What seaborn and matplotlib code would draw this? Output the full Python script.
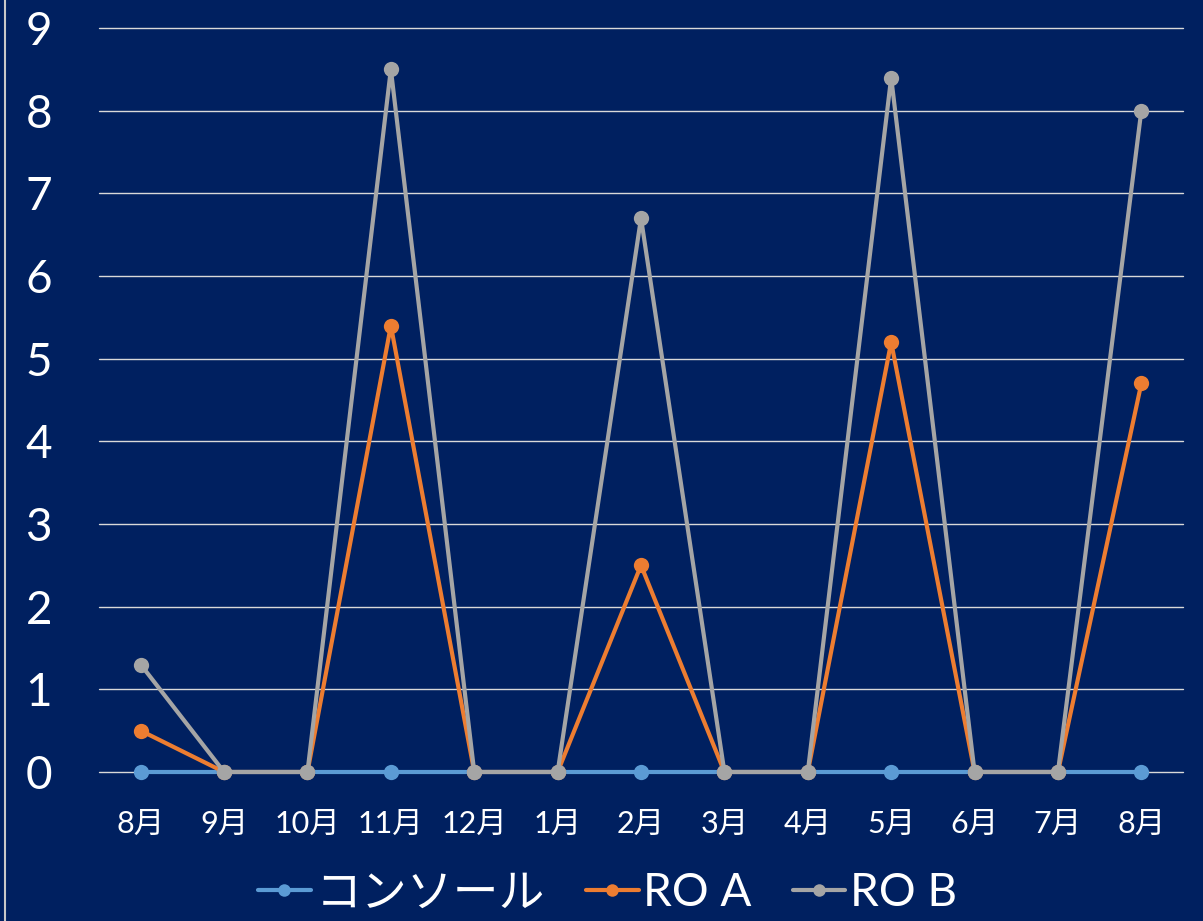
import matplotlib
matplotlib.use("Agg")
import matplotlib.pyplot as plt
from matplotlib.lines import Line2D
import seaborn as sns
import pandas as pd
import numpy as np

months = ["8月", "9月", "10月", "11月", "12月", "1月", "2月", "3月", "4月", "5月", "6月", "7月", "8月"]
console = [0, 0, 0, 0, 0, 0, 0, 0, 0, 0, 0, 0, 0]
ro_a = [0.5, 0, 0, 5.4, 0, 0, 2.5, 0, 0, 5.2, 0, 0, 4.7]
ro_b = [1.3, 0, 0, 8.5, 0, 0, 6.7, 0, 0, 8.4, 0, 0, 8.0]
series_names = ["コンソール", "RO A", "RO B"]
colors = ["#5B9BD5", "#ED7D31", "#A5A5A5"]
y_ticks = list(range(0, 10))

bg = "#002060"
sns.set_theme(style="white")
plt.rcParams["font.family"] = ["Lato", "Noto Sans CJK JP", "DejaVu Sans"]

idx = list(range(len(months)))
df = pd.concat([
    pd.DataFrame({"x": idx, "value": vals, "series": name})
    for name, vals in zip(series_names, [console, ro_a, ro_b])
], ignore_index=True)

fig = plt.figure(figsize=(12.03, 9.21), dpi=100, facecolor=bg)
ax = fig.add_axes([0.0823, 0.1618, 0.9011, 0.8078])
ax.set_facecolor(bg)

for ys in y_ticks:
    ax.axhline(ys, color="#D9D9D9", lw=1.0, zorder=1)

sns.lineplot(data=df, x="x", y="value", hue="series", hue_order=series_names,
             palette=colors, marker="o", markersize=11, markeredgewidth=0,
             linewidth=3, sort=False, ax=ax, legend=False, zorder=3)

ax.set_xlim(-0.5, len(months) - 0.5)
ax.set_ylim(0, 9)
ax.set_yticks(y_ticks)
ax.set_yticklabels([str(v) for v in y_ticks], fontsize=33, color="white")
ax.set_xticks(idx)
ax.set_xticklabels(months, fontsize=22, color="white")
ax.tick_params(axis="y", length=0, pad=53)
ax.tick_params(axis="x", length=0, pad=27)
for lbl in ax.get_yticklabels():
    lbl.set_horizontalalignment("left")
ax.set_xlabel("")
ax.set_ylabel("")
for s in ax.spines.values():
    s.set_visible(False)
for ln in ax.lines:
    ln.set_clip_on(False)

handles = [Line2D([0], [0], color=c, lw=3, marker="o", markersize=9, markeredgewidth=0)
           for c in colors]
leg = fig.legend(handles, series_names, loc="center", bbox_to_anchor=(0.505, 0.03),
                 ncol=3, frameon=False, fontsize=33, handlelength=1.15, handletextpad=0.1,
                 columnspacing=0.9, labelcolor="white", borderpad=0)

fig.add_artist(Line2D([0.0045, 0.0045], [0, 1], color="#C8C8C8", lw=1.5, transform=fig.transFigure))

fig.savefig("out.png", dpi=100, facecolor=bg)
